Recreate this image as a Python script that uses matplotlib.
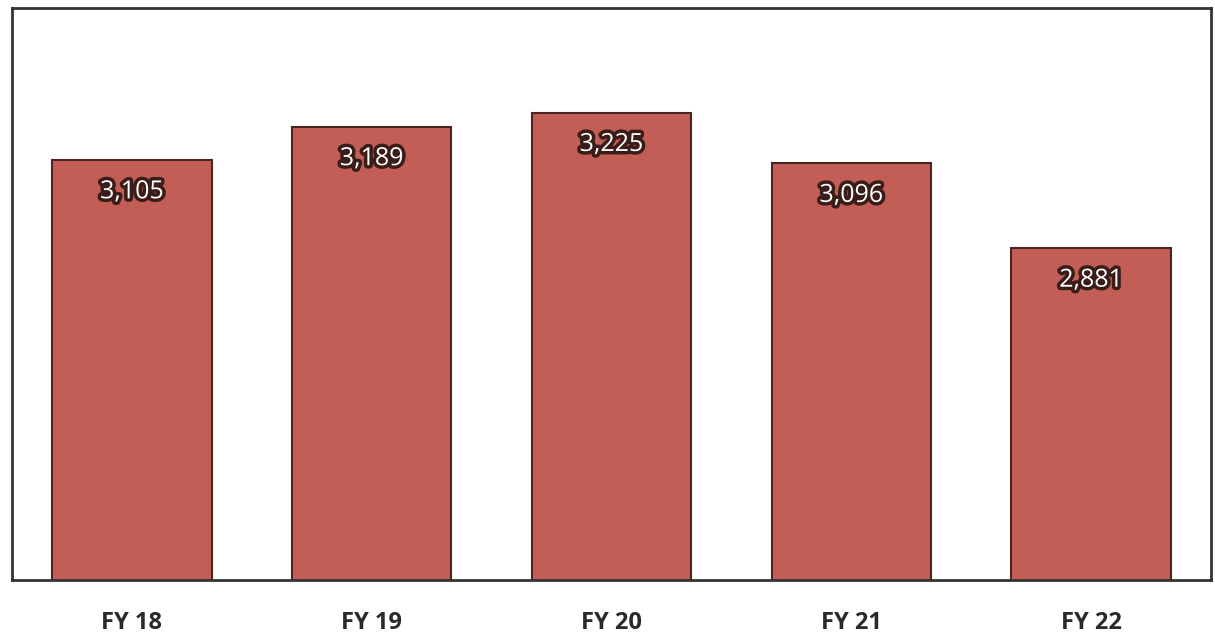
import matplotlib.pyplot as plt
import matplotlib.patheffects as pe

years = ["FY 18", "FY 19", "FY 20", "FY 21", "FY 22"]
counts = [3105, 3189, 3225, 3096, 2881]

fig = plt.figure(figsize=(12.15, 6.41), dpi=100)
ax = fig.add_axes([12 / 1215, 61 / 641, 1199 / 1215, 572 / 641])

xs = list(range(len(years)))
bars = ax.bar(xs, counts, width=0.665, color="#c25e55",
              edgecolor="#4a2420", linewidth=1.5, zorder=2)

ax.set_xlim(-0.5, len(years) - 0.5)
ax.set_ylim(2040, 3490)

for x, v in zip(xs, counts):
    ax.annotate(f"{v:,}", xy=(x, v), xytext=(0, -23), textcoords="offset points",
                ha="center", va="center", fontsize=18, color="white",
                family="Open Sans",
                path_effects=[pe.withStroke(linewidth=5, foreground="#3a1c18")])

ax.set_xticks(xs)
ax.set_xticklabels(years, fontsize=17, fontweight="bold", color="#2a2a2a",
                   family="Open Sans")
ax.tick_params(axis="x", length=0, pad=22)
ax.set_yticks([])

for side in ["top", "left", "right", "bottom"]:
    ax.spines[side].set_linewidth(2)
    ax.spines[side].set_color("#333333")

fig.savefig("out.png", dpi=100)
